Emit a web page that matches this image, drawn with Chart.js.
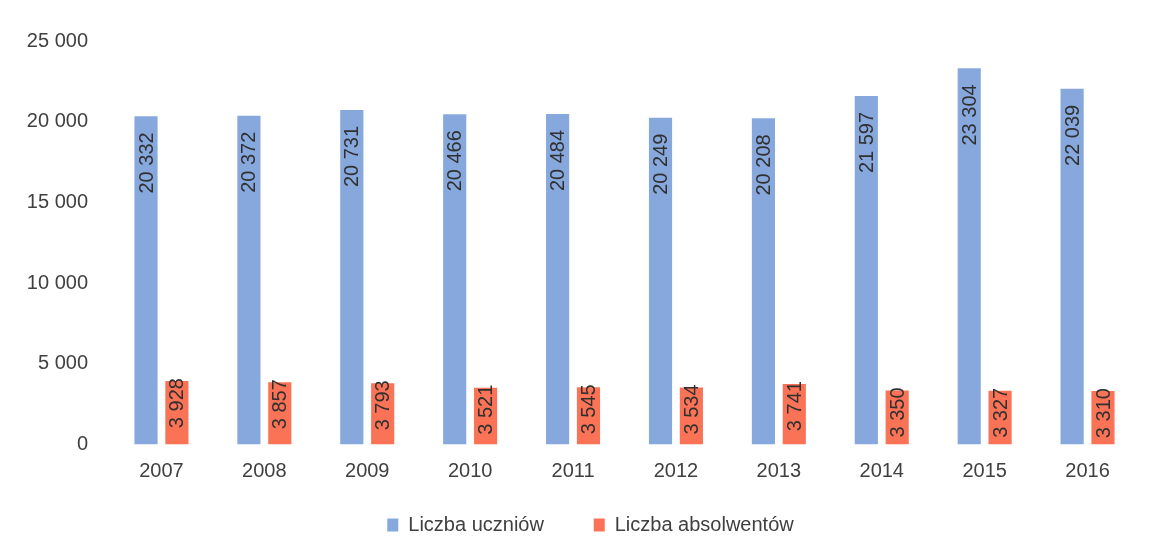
<!DOCTYPE html>
<html>
<head>
<meta charset="utf-8">
<script src="https://cdn.jsdelivr.net/npm/chart.js@4"></script>
<style>
  html, body { margin: 0; padding: 0; background: #fff; }
  #wrap { width: 1159px; height: 556px; }
</style>
</head>
<body>
<div id="wrap"><canvas id="students-chart"></canvas></div>
<script>
const years = ["2007", "2008", "2009", "2010", "2011", "2012", "2013", "2014", "2015", "2016"];
const students = [20332, 20372, 20731, 20466, 20484, 20249, 20208, 21597, 23304, 22039];
const graduates = [3928, 3857, 3793, 3521, 3545, 3534, 3741, 3350, 3327, 3310];
const yTicks = [0, 5000, 10000, 15000, 20000, 25000];

const FONT = "'Liberation Sans', 'DejaVu Sans', sans-serif";

function spaced(v) {
    return String(v).replace(/\B(?=(\d{3})+(?!\d))/g, " ");
}

// rotated value labels near the top of each bar
const barLabels = {
    id: "barLabels",
    afterDatasetsDraw(chart) {
        const ctx = chart.ctx;
        ctx.save();
        ctx.font = "20px " + FONT;
        ctx.fillStyle = "#303030";
        ctx.textAlign = "right";
        ctx.textBaseline = "middle";
        chart.data.datasets.forEach((ds, i) => {
            const offset = i === 0 ? 16 : -3;
            chart.getDatasetMeta(i).data.forEach((bar, j) => {
                ctx.save();
                ctx.translate(bar.x + 1, bar.y + offset);
                ctx.rotate(-Math.PI / 2);
                ctx.fillText(spaced(ds.data[j]), 0, 0);
                ctx.restore();
            });
        });
        ctx.restore();
    },
};

// nudge the legend a bit to the right of the canvas centre
const legendShift = {
    id: "legendShift",
    afterLayout(chart) {
        if (chart.legend) {
            chart.legend.left += 17;
            chart.legend.right += 17;
        }
    },
};

const config = {
    type: "bar",
    data: {
        labels: years,
        datasets: [
            {
                label: "Liczba uczniów",
                data: students,
                backgroundColor: "#86A8DC",
                categoryPercentage: 0.6,
                barPercentage: 0.75,
            },
            {
                label: "Liczba absolwentów",
                data: graduates,
                backgroundColor: "#FA7356",
                categoryPercentage: 0.6,
                barPercentage: 0.75,
            },
        ],
    },
    options: {
        animation: false,
        responsive: true,
        maintainAspectRatio: false,
        layout: {
            padding: { left: 8, right: 20, top: 41, bottom: 11 },
        },
        scales: {
            x: {
                grid: { display: false, drawTicks: false },
                border: { display: false },
                ticks: {
                    color: "#404040",
                    font: { size: 20, family: FONT },
                    padding: 15,
                },
            },
            y: {
                min: 0,
                max: 25000,
                afterFit: (scale) => { scale.width = 102; },
                afterBuildTicks: (scale) => {
                    scale.ticks = yTicks.map((v) => ({ value: v }));
                },
                grid: { display: false, drawTicks: false },
                border: { display: false },
                ticks: {
                    color: "#404040",
                    font: { size: 20, family: FONT },
                    padding: 22,
                    callback: (v) => spaced(v),
                },
            },
        },
        plugins: {
            legend: {
                position: "bottom",
                labels: {
                    color: "#404040",
                    font: { size: 20, family: FONT },
                    boxWidth: 11,
                    boxHeight: 13,
                    padding: 16.5,
                    // wider gap between the two legend entries
                    generateLabels: (chart) => {
                        const items = Chart.defaults.plugins.legend.labels.generateLabels(chart);
                        items[0].text += "      ";
                        return items;
                    },
                },
            },
            tooltip: { enabled: false },
        },
    },
    plugins: [barLabels, legendShift],
};

window.addEventListener("DOMContentLoaded", () => {
    new Chart(document.getElementById("students-chart"), config);
});
</script>
</body>
</html>
